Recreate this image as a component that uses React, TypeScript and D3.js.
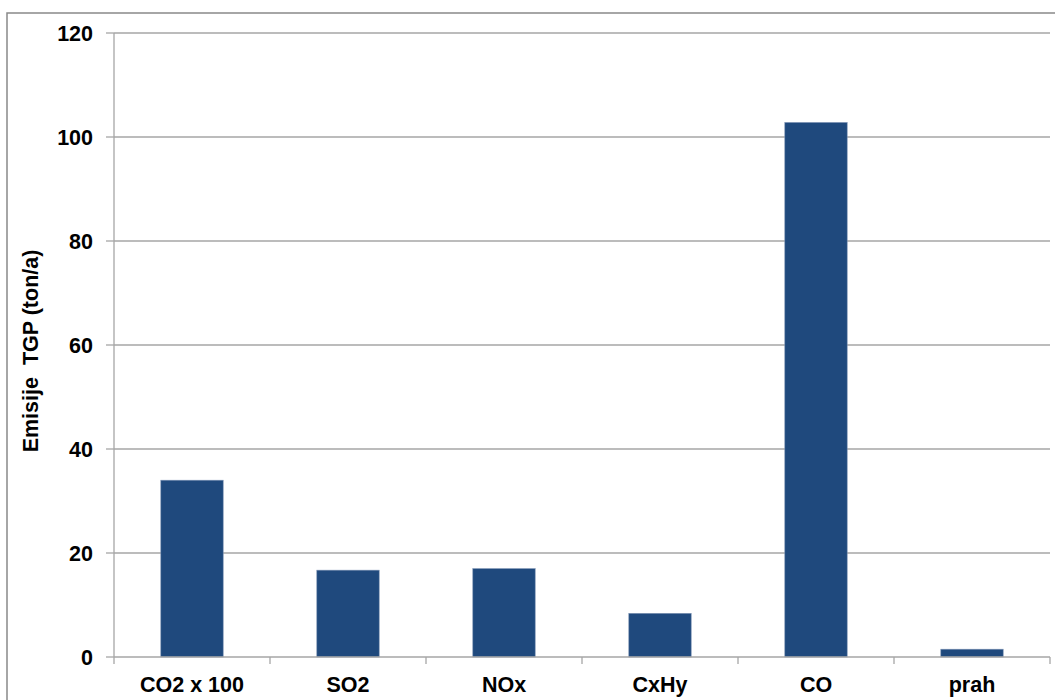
import React from "react";
import * as d3 from "d3";

const categories = ["CO2 x 100", "SO2", "NOx", "CxHy", "CO", "prah"];
const values = [34, 16.7, 17.0, 8.4, 102.8, 1.5];
const yTicks = [0, 20, 40, 60, 80, 100, 120];

const W = 1055;
const H = 700;
const left = 114;
const right = 1050;
const top = 33;
const bottom = 657;
const barColor = "#1F497D";
const gridColor = "#A6A6A6";
const font = "'Liberation Sans', Arial, sans-serif";

export default function App() {
  const x = d3.scaleBand<string>().domain(categories).range([left, right]).paddingInner(0.6).paddingOuter(0.3);
  const xCat = d3.scaleBand<string>().domain(categories).range([left, right]);
  const y = d3.scaleLinear().domain([0, 120]).range([bottom, top]);

  return (
    <svg width={W} height={H} style={{ position: "absolute", left: 0, top: 0 }}>
      <rect x={0} y={0} width={W} height={H} fill="#fff" />
      <rect x={7} y={13} width={W + 10} height={H} fill="none" stroke="#898989" strokeWidth={1.5} />
      {yTicks.map((t) => (
        <g key={t}>
          {t > 0 && <line x1={left} x2={right} y1={y(t)} y2={y(t)} stroke={gridColor} strokeWidth={1.3} />}
          <line x1={106} x2={left} y1={y(t)} y2={y(t)} stroke={gridColor} strokeWidth={1.3} />
          <text x={93} y={y(t)} dy="0.36em" textAnchor="end" fontFamily={font} fontWeight="bold" fontSize={21.5} fill="#000">
            {t}
          </text>
        </g>
      ))}
      {categories.map((c, i) => (
        <rect key={c} x={x(c)} y={y(values[i])} width={x.bandwidth()} height={bottom - y(values[i])} fill={barColor} stroke="#7F94B5" strokeWidth={0.6} />
      ))}
      <line x1={left} x2={left} y1={top} y2={bottom + 7} stroke={gridColor} strokeWidth={1.3} />
      <line x1={left} x2={right} y1={bottom} y2={bottom} stroke={gridColor} strokeWidth={1.3} />
      {categories.map((c) => (
        <line key={c} x1={(xCat(c) as number) + xCat.bandwidth()} x2={(xCat(c) as number) + xCat.bandwidth()} y1={bottom} y2={bottom + 7} stroke={gridColor} strokeWidth={1.3} />
      ))}
      {categories.map((c) => (
        <text key={c} x={(xCat(c) as number) + xCat.bandwidth() / 2} y={692} textAnchor="middle" fontFamily={font} fontWeight="bold" fontSize={21.5} fill="#000">
          {c}
        </text>
      ))}
      <text transform={`translate(38, 351) rotate(-90)`} textAnchor="middle" fontFamily={font} fontWeight="bold" fontSize={21.5} fill="#000">
        {"Emisije\u00a0 TGP (ton/a)"}
      </text>
    </svg>
  );
}
